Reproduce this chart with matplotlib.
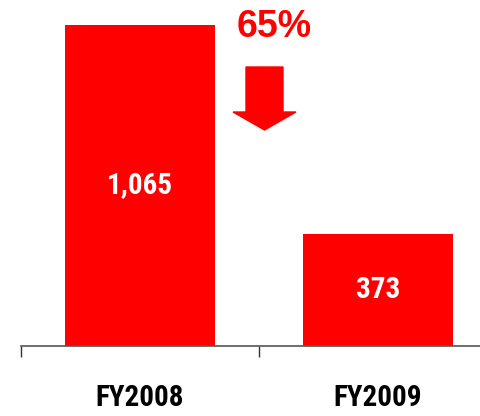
import matplotlib
matplotlib.use("Agg")
import matplotlib.pyplot as plt
from matplotlib.patches import FancyArrow

years = ["FY2008", "FY2009"]
values = [1065, 373]
value_labels = ["1,065", "373"]
change_label = "65%"

narrow = ["Roboto Condensed", "DejaVu Sans"]
red = "#ff0000"

fig = plt.figure(figsize=(4.8, 4.16), dpi=100)
ax = fig.add_axes([21 / 480, 70 / 416, 459 / 480, 346 / 416])

pos = list(range(len(years)))
ax.bar(pos, values, width=0.63, color=red)
for x, v, lab in zip(pos, values, value_labels):
    ax.text(x, v / 2, lab, ha="center", va="center", color="white",
            fontsize=21, fontweight="bold", family=narrow)

# boundary ticks without labels, category labels on minor ticks
ax.set_xticks([p - 0.5 for p in pos])
ax.set_xticklabels([])
ax.set_xticks(pos, minor=True)
ax.set_xticklabels(years, minor=True, fontsize=21, fontweight="bold", family=narrow)
ax.tick_params(axis="x", which="major", length=8, width=1, direction="out", color="#333333")
ax.tick_params(axis="x", which="minor", length=0, pad=27)
ax.set_yticks([])
ax.set_xlim(-0.5, -0.5 + 459 / 238)
ax.set_ylim(0, 1148)
for s in ["top", "right", "left"]:
    ax.spines[s].set_visible(False)
ax.spines["bottom"].set_color("#555555")
ax.spines["bottom"].set_linewidth(1.2)

# decrease annotation
fig.text(274 / 480, 1 - 27 / 416, change_label, ha="center", va="center",
         color=red, fontsize=27, fontweight="bold", family="Liberation Sans")
arrow = FancyArrow(2.645, 3.49, 0, -0.63, width=0.37, head_width=0.63,
                   head_length=0.18, length_includes_head=True,
                   color=red, transform=fig.dpi_scale_trans)
fig.patches.append(arrow)

fig.savefig("out.png", dpi=100)
